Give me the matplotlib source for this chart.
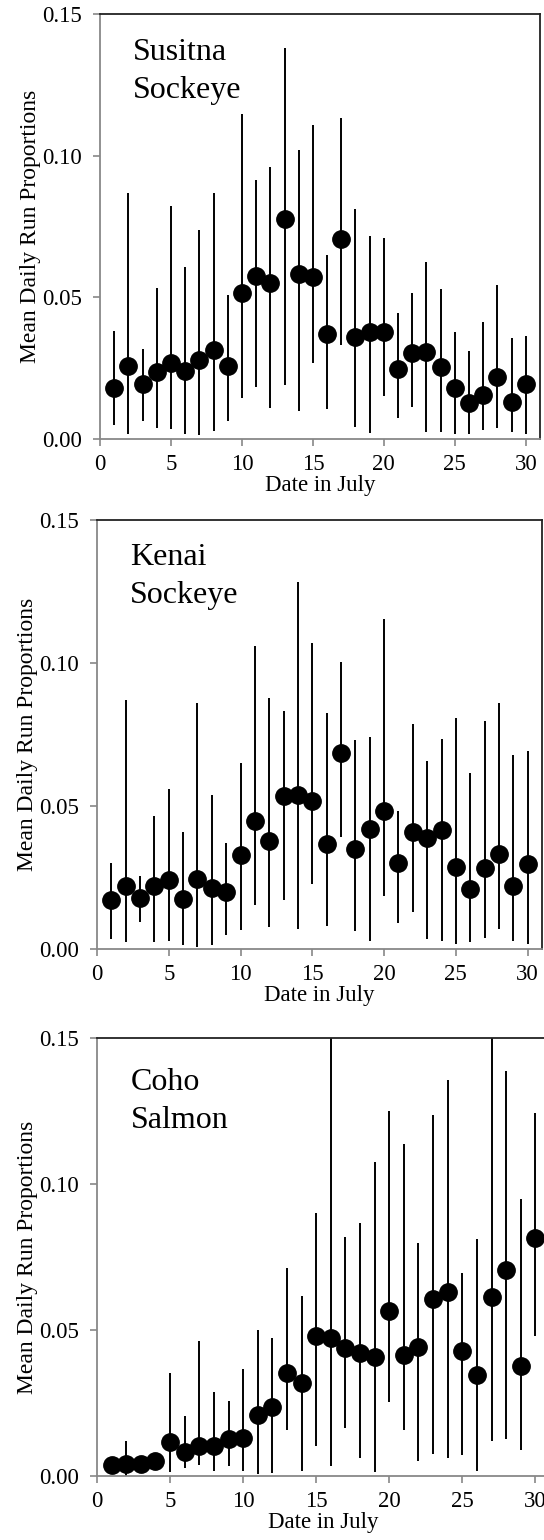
import matplotlib
matplotlib.use("Agg")
import matplotlib.pyplot as plt

plt.rcParams['font.family'] = ['Liberation Serif', 'DejaVu Serif']

days = list(range(1, 31))

# Susitna sockeye: mean, lower, upper
sus_mean = [0.0179, 0.0259, 0.0193, 0.0237, 0.0270, 0.0240, 0.0278, 0.0314, 0.0259, 0.0514,
            0.0576, 0.0549, 0.0778, 0.0584, 0.0573, 0.0372, 0.0707, 0.0361, 0.0378, 0.0376,
            0.0247, 0.0302, 0.0308, 0.0255, 0.0179, 0.0126, 0.0155, 0.0220, 0.0132, 0.0194]
sus_low = [0.0049, 0.0016, 0.0065, 0.0038, 0.0034, 0.0016, 0.0014, 0.0028, 0.0065, 0.0143,
           0.0184, 0.0108, 0.0190, 0.0100, 0.0269, 0.0105, 0.0331, 0.0043, 0.0020, 0.0152,
           0.0073, 0.0112, 0.0026, 0.0026, 0.0018, 0.0018, 0.0032, 0.0038, 0.0024, 0.0018]
sus_high = [0.0381, 0.0870, 0.0318, 0.0533, 0.0824, 0.0607, 0.0739, 0.0870, 0.0510, 0.1148,
            0.0913, 0.0960, 0.1380, 0.1019, 0.1107, 0.0649, 0.1134, 0.0811, 0.0717, 0.0709,
            0.0443, 0.0516, 0.0623, 0.0531, 0.0376, 0.0311, 0.0414, 0.0543, 0.0358, 0.0365]

# Kenai sockeye
ken_mean = [0.0172, 0.0219, 0.0178, 0.0221, 0.0240, 0.0176, 0.0244, 0.0213, 0.0201, 0.0327,
            0.0448, 0.0379, 0.0535, 0.0538, 0.0517, 0.0366, 0.0684, 0.0350, 0.0419, 0.0483,
            0.0300, 0.0410, 0.0387, 0.0416, 0.0288, 0.0210, 0.0283, 0.0333, 0.0219, 0.0298]
ken_low = [0.0035, 0.0024, 0.0094, 0.0024, 0.0027, 0.0013, 0.0006, 0.0013, 0.0048, 0.0065,
           0.0155, 0.0076, 0.0172, 0.0071, 0.0227, 0.0079, 0.0391, 0.0064, 0.0027, 0.0187,
           0.0091, 0.0128, 0.0036, 0.0027, 0.0017, 0.0023, 0.0038, 0.0070, 0.0027, 0.0017]
ken_high = [0.0300, 0.0872, 0.0256, 0.0466, 0.0559, 0.0410, 0.0860, 0.0538, 0.0370, 0.0649,
            0.1058, 0.0876, 0.0831, 0.1283, 0.1071, 0.0826, 0.1002, 0.0730, 0.0742, 0.1155,
            0.0484, 0.0785, 0.0658, 0.0736, 0.0806, 0.0614, 0.0797, 0.0860, 0.0680, 0.0692]

# Coho salmon
coho_mean = [0.0037, 0.0042, 0.0042, 0.0050, 0.0117, 0.0082, 0.0102, 0.0103, 0.0128, 0.0131,
             0.0210, 0.0237, 0.0354, 0.0317, 0.0479, 0.0471, 0.0440, 0.0420, 0.0406, 0.0565,
             0.0414, 0.0442, 0.0605, 0.0631, 0.0428, 0.0345, 0.0614, 0.0705, 0.0376, 0.0814]
coho_low = [0.0030, 0.0000, 0.0035, 0.0040, 0.0014, 0.0027, 0.0037, 0.0017, 0.0034, 0.0016,
            0.0008, 0.0011, 0.0157, 0.0017, 0.0103, 0.0033, 0.0166, 0.0062, 0.0014, 0.0252,
            0.0157, 0.0050, 0.0074, 0.0062, 0.0071, 0.0017, 0.0120, 0.0126, 0.0090, 0.0479]
coho_high = [0.0045, 0.0119, 0.0050, 0.0060, 0.0353, 0.0205, 0.0462, 0.0288, 0.0257, 0.0365,
             0.0500, 0.0471, 0.0713, 0.0616, 0.0902, 0.1700, 0.0817, 0.0868, 0.1075, 0.1251,
             0.1138, 0.0797, 0.1237, 0.1357, 0.0694, 0.0811, 0.1700, 0.1388, 0.0949, 0.1243]

panels = [
    ("Susitna\nSockeye", sus_mean, sus_low, sus_high, [100/544, 1 - 439/1540, 440/544, 425/1540], 0.061),
    ("Kenai\nSockeye", ken_mean, ken_low, ken_high, [97/544, 1 - 949/1540, 445/544, 429/1540], 0.058),
    ("Coho\nSalmon", coho_mean, coho_low, coho_high, [97/544, 1 - 1476/1540, 453/544, 438/1540], 0.073),
]

fig = plt.figure(figsize=(5.44, 15.40), dpi=100)

for name, mean, low, high, rect, ty in panels:
    ax = fig.add_axes(rect)
    ax.vlines(days, low, high, color='black', linewidth=1.4)
    ax.plot(days, mean, 'o', color='black', markersize=12.5, zorder=3)
    ax.set_xlim(0, 31)
    ax.set_ylim(0, 0.15)
    ax.set_xticks([0, 5, 10, 15, 20, 25, 30])
    ax.set_yticks([0.0, 0.05, 0.10, 0.15])
    ax.set_yticklabels(['0.00', '0.05', '0.10', '0.15'])
    for s in ['left', 'bottom']:
        ax.spines[s].set_color('#888888')
        ax.spines[s].set_linewidth(1.3)
    for s in ['top', 'right']:
        ax.spines[s].set_color('#222222')
        ax.spines[s].set_linewidth(1.3)
    ax.tick_params(axis='both', direction='out', length=5, width=1.2, color='#888888', labelsize=16.5)
    ax.tick_params(axis='y', pad=8)
    ax.tick_params(axis='x', pad=6)
    ax.set_xlabel('Date in July', fontsize=16.5, labelpad=0)
    ax.set_ylabel('Mean Daily Run Proportions', fontsize=17, labelpad=1)
    ax.text(0.075, 1 - ty + 0.004, name, transform=ax.transAxes, fontsize=23,
            va='top', ha='left', linespacing=1.4)

fig.savefig('out.png', dpi=100)
